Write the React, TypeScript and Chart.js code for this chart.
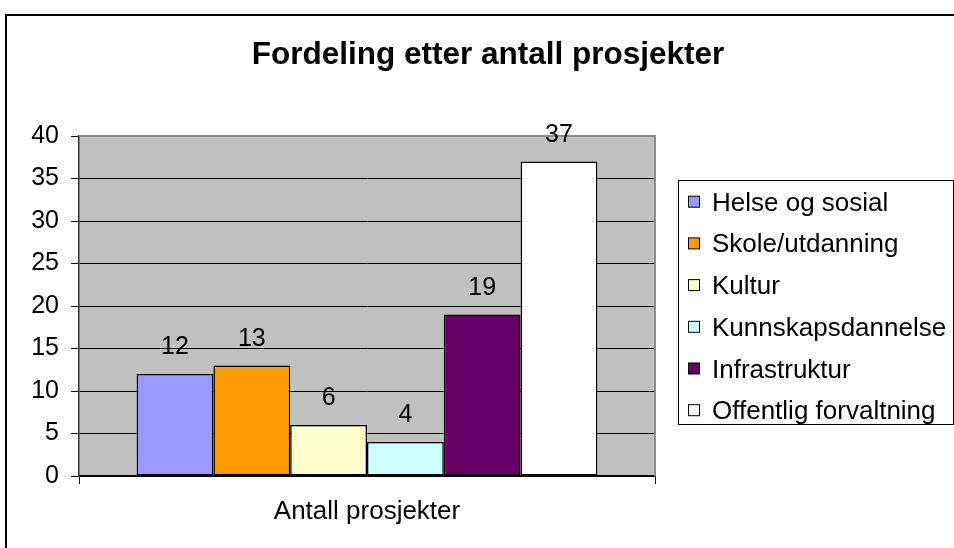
import React, { useEffect, useRef } from "react";
import { Chart, registerables } from "chart.js";

Chart.register(...registerables);

const categories = ["Antall prosjekter"];
const seriesNames = [
  "Helse og sosial",
  "Skole/utdanning",
  "Kultur",
  "Kunnskapsdannelse",
  "Infrastruktur",
  "Offentlig forvaltning",
];
const seriesValues = [12, 13, 6, 4, 19, 37];
const seriesColors = ["#9999FF", "#FF9900", "#FFFFCC", "#CCFFFF", "#660066", "#FFFFFF"];
const titleText = "Fordeling etter antall prosjekter";
const yMin = 0;
const yMax = 40;
const yStep = 5;

const FONT = "'Liberation Sans', Arial, Helvetica, sans-serif";

const decorPlugin = {
  id: "decor",
  beforeDraw(chart: any) {
    const { ctx, chartArea } = chart;
    ctx.save();
    ctx.fillStyle = "#C0C0C0";
    ctx.fillRect(chartArea.left, chartArea.top, chartArea.right - chartArea.left, chartArea.bottom - chartArea.top);
    ctx.restore();
  },
  afterDatasetsDraw(chart: any) {
    const { ctx, chartArea } = chart;
    ctx.save();
    ctx.strokeStyle = "#8C8C8C";
    ctx.lineWidth = 2;
    ctx.beginPath();
    ctx.moveTo(chartArea.left, chartArea.top);
    ctx.lineTo(chartArea.right, chartArea.top);
    ctx.lineTo(chartArea.right, chartArea.bottom);
    ctx.stroke();
    ctx.fillStyle = "#000";
    ctx.font = `25px ${FONT}`;
    ctx.textAlign = "center";
    ctx.textBaseline = "alphabetic";
    chart.data.datasets.forEach((ds: any, i: number) => {
      const meta = chart.getDatasetMeta(i);
      meta.data.forEach((el: any, j: number) => {
        ctx.fillText(String(ds.data[j]), el.x, el.y - 20);
      });
    });
    ctx.restore();
  },
  afterDraw(chart: any) {
    const { ctx } = chart;
    ctx.save();
    ctx.strokeStyle = "#000";
    ctx.lineWidth = 2;
    ctx.strokeRect(6, 15, 2000, 2000);
    ctx.fillStyle = "#000";
    ctx.font = `bold 31.5px ${FONT}`;
    ctx.textAlign = "center";
    ctx.textBaseline = "alphabetic";
    ctx.fillText(titleText, 488, 64);
    ctx.lineWidth = 1;
    ctx.strokeStyle = "#000";
    ctx.fillStyle = "#FFFFFF";
    ctx.fillRect(678.5, 180.5, 275, 244);
    ctx.strokeRect(678.5, 180.5, 275, 244);
    ctx.font = `26px ${FONT}`;
    ctx.textAlign = "left";
    chart.data.datasets.forEach((ds: any, i: number) => {
      const base = 210.7 + i * 41.7;
      ctx.fillStyle = ds.backgroundColor;
      ctx.fillRect(688.5, base - 14.5, 11, 11);
      ctx.strokeStyle = "#000";
      ctx.strokeRect(688.5, base - 14.5, 11, 11);
      ctx.fillStyle = "#000";
      ctx.fillText(ds.label, 712, base);
    });
    ctx.restore();
  },
};

export default function App() {
  const ref = useRef<HTMLCanvasElement | null>(null);
  useEffect(() => {
    if (!ref.current) return;
    const chart = new Chart(ref.current, {
      type: "bar",
      data: {
        labels: categories,
        datasets: seriesNames.map((name, i) => ({
          label: name,
          data: [seriesValues[i]],
          backgroundColor: seriesColors[i],
          borderColor: "#000",
          borderWidth: 1.5,
          borderSkipped: false,
          categoryPercentage: 0.8,
          barPercentage: 1.0,
        })),
      },
      options: {
        responsive: false,
        animation: false,
        layout: { padding: { top: 136, right: 299, bottom: 0, left: 0 } },
        plugins: {
          legend: { display: false },
          title: { display: false },
          tooltip: { enabled: false },
        },
        scales: {
          x: {
            offset: true,
            grid: { drawOnChartArea: false, drawTicks: true, tickLength: 8, color: "#000" },
            border: { display: true, color: "#000", width: 1.5 },
            ticks: { color: "#000", font: { family: FONT, size: 26 }, padding: 12 },
            afterFit(scale: any) {
              scale.height = 72;
            },
          },
          y: {
            min: yMin,
            max: yMax,
            grid: { color: "#000", tickLength: 8, drawTicks: true },
            border: { display: true, color: "#333", width: 1.5 },
            ticks: { stepSize: yStep, color: "#000", font: { family: FONT, size: 25 }, padding: 12 },
            afterFit(scale: any) {
              scale.width = 79;
            },
          },
        },
      },
      plugins: [decorPlugin],
    });
    return () => chart.destroy();
  }, []);
  return (
    <div style={{ position: "absolute", left: 0, top: 0, width: 954, height: 548, background: "#fff" }}>
      <canvas ref={ref} width={954} height={548} style={{ display: "block" }} />
    </div>
  );
}
